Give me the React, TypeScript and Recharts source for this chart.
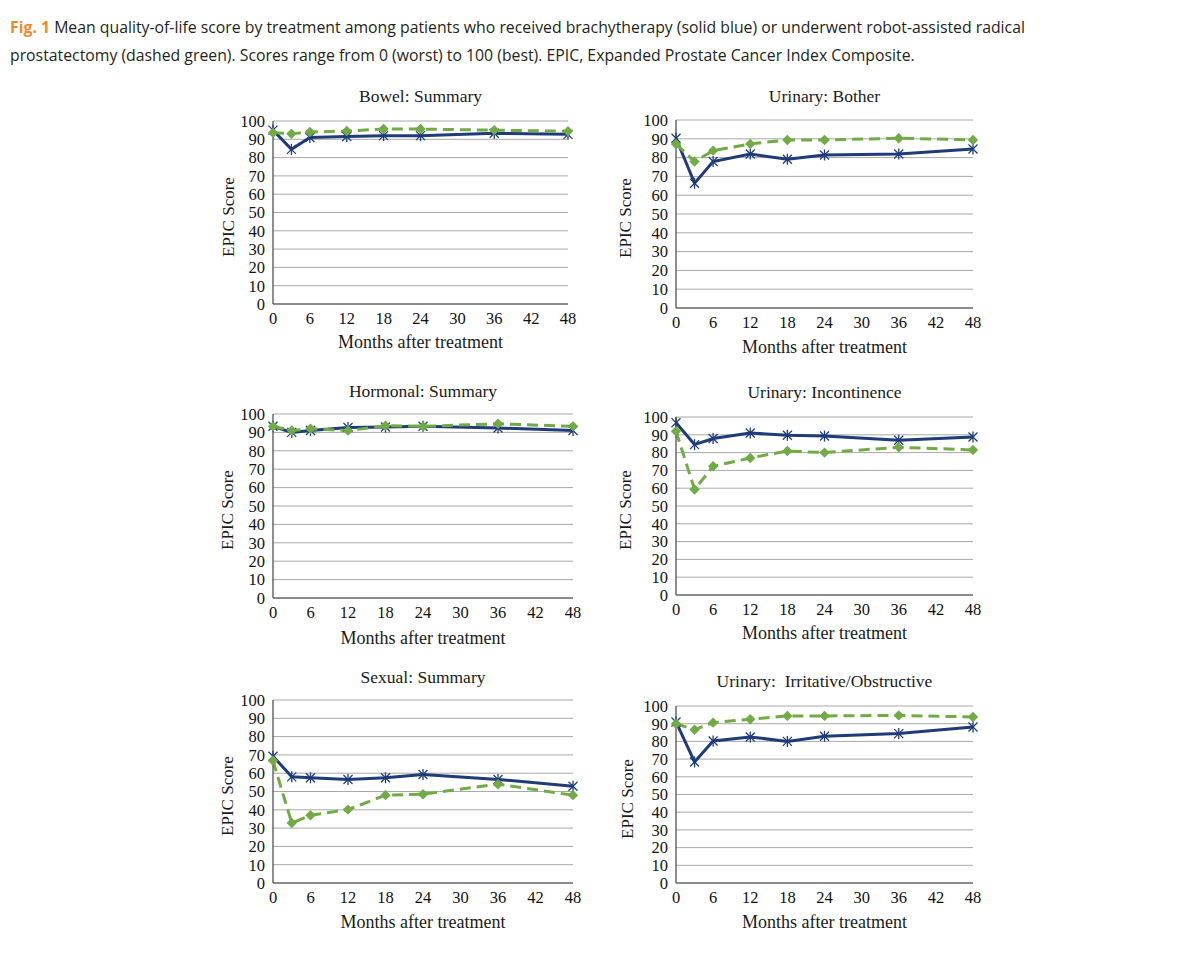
import React from 'react';
import { LineChart, Line, XAxis, YAxis, CartesianGrid } from 'recharts';

// ---------- data ----------
const months = [0, 3, 6, 12, 18, 24, 36, 48];
const xTicks = [0, 6, 12, 18, 24, 30, 36, 42, 48];
const yTicks = [0, 10, 20, 30, 40, 50, 60, 70, 80, 90, 100];

const bowelBrachy = [95, 84.5, 91, 91.5, 92, 92, 93.3, 92.7];
const bowelRarp = [93.6, 93, 94, 94.5, 95.6, 95.6, 95, 94.4];

const botherBrachy = [90.3, 66.4, 77.9, 81.9, 79.1, 81.4, 81.9, 84.6];
const botherRarp = [87.3, 77.9, 83.7, 87.3, 89.4, 89.4, 90.3, 89.4];

const hormonalBrachy = [93.3, 90, 91, 92.7, 92.9, 93.3, 92.4, 91];
const hormonalRarp = [93.3, 91, 92, 91, 93.6, 93.3, 94.7, 93.3];

const incontBrachy = [96.8, 84.5, 87.9, 91, 89.7, 89.3, 86.9, 88.8];
const incontRarp = [92, 59.3, 72.3, 77, 80.9, 80, 83, 81.5];

const sexualBrachy = [69.3, 58, 57.5, 56.6, 57.5, 59.3, 56.6, 52.9];
const sexualRarp = [66.8, 32.8, 37, 40.1, 48, 48.5, 54, 48];

const irritBrachy = [91, 68.4, 80.2, 82.5, 80, 82.9, 84.4, 88.1];
const irritRarp = [90, 86.6, 90.6, 92.5, 94.4, 94.4, 94.7, 93.8];

const titles = [
  'Bowel: Summary',
  'Urinary: Bother',
  'Hormonal: Summary',
  'Urinary: Incontinence',
  'Sexual: Summary',
  'Urinary:  Irritative/Obstructive',
];

// ---------- styles ----------
const BLUE = '#1f3b78';
const GREEN = '#71ab45';
const SERIF = '"Liberation Serif", "DejaVu Serif", serif';

const StarDot = (props: any) => {
  const { cx, cy } = props;
  if (cx == null || cy == null) return null;
  const r = 4.5;
  return (
    <g stroke={BLUE} strokeWidth={1.3} fill="none">
      <line x1={cx - r} y1={cy - r} x2={cx + r} y2={cy + r} />
      <line x1={cx - r} y1={cy + r} x2={cx + r} y2={cy - r} />
      <line x1={cx} y1={cy - r - 1} x2={cx} y2={cy + r + 1} />
    </g>
  );
};

const DiamondDot = (props: any) => {
  const { cx, cy } = props;
  if (cx == null || cy == null) return null;
  const r = 5.2;
  return (
    <path
      d={`M${cx},${cy - r} L${cx + r},${cy} L${cx},${cy + r} L${cx - r},${cy} Z`}
      fill={GREEN}
      stroke="none"
    />
  );
};

type Box = { left: number; top: number; right: number; bottom: number; titleY: number; xLabelY: number; yLabelX: number };

const layouts: Box[] = [
  { left: 273, top: 121, right: 568, bottom: 304, titleY: 97, xLabelY: 342, yLabelX: 228 },
  { left: 676, top: 120, right: 973, bottom: 308, titleY: 97, xLabelY: 347, yLabelX: 625 },
  { left: 273, top: 414, right: 573, bottom: 598, titleY: 392, xLabelY: 638, yLabelX: 227 },
  { left: 676, top: 417, right: 973, bottom: 595, titleY: 393, xLabelY: 633, yLabelX: 625 },
  { left: 273, top: 700, right: 573, bottom: 883, titleY: 678, xLabelY: 922, yLabelX: 227 },
  { left: 676, top: 706, right: 973, bottom: 883, titleY: 682, xLabelY: 922, yLabelX: 627 },
];

const seriesPairs: [number[], number[]][] = [
  [bowelBrachy, bowelRarp],
  [botherBrachy, botherRarp],
  [hormonalBrachy, hormonalRarp],
  [incontBrachy, incontRarp],
  [sexualBrachy, sexualRarp],
  [irritBrachy, irritRarp],
];

const centered = (x: number, y: number, extra: React.CSSProperties = {}): React.CSSProperties => ({
  position: 'absolute',
  left: x,
  top: y,
  transform: 'translate(-50%, -50%)',
  whiteSpace: 'pre',
  lineHeight: 1,
  fontFamily: SERIF,
  color: '#1a1a1a',
  ...extra,
});

const Panel = ({ title, brachy, rarp, box }: { title: string; brachy: number[]; rarp: number[]; box: Box }) => {
  const data = months.map((m, i) => ({ month: m, brachy: brachy[i], rarp: rarp[i] }));
  const yAxisW = 50;
  const xAxisH = 30;
  const padL = 60;
  const padT = 10;
  const padR = 12;
  const padB = 40;
  const plotW = box.right - box.left;
  const plotH = box.bottom - box.top;
  const cx = (box.left + box.right) / 2;
  const cy = (box.top + box.bottom) / 2;
  const tickStyle = { fontFamily: SERIF, fontSize: 16.5, fill: '#111' };
  return (
    <>
      <div style={centered(cx, box.titleY, { fontSize: 17.5 })}>{title}</div>
      <div style={centered(cx, box.xLabelY, { fontSize: 18 })}>Months after treatment</div>
      <div style={centered(box.yLabelX, cy + 4, { fontSize: 17, transform: 'translate(-50%, -50%) rotate(-90deg)' })}>
        EPIC Score
      </div>
      <div style={{ position: 'absolute', left: box.left - padL, top: box.top - padT }}>
        <LineChart
          width={plotW + padL + padR}
          height={plotH + padT + padB}
          data={data}
          margin={{ top: padT, right: padR, left: padL - yAxisW, bottom: padB - xAxisH }}
        >
          <CartesianGrid vertical={false} stroke="#a8a8a8" strokeWidth={1} />
          <XAxis
            dataKey="month"
            type="number"
            domain={[0, 48]}
            ticks={xTicks}
            interval={0}
            height={xAxisH}
            tickLine={false}
            axisLine={{ stroke: '#444', strokeWidth: 1.2 }}
            tick={tickStyle}
          />
          <YAxis
            type="number"
            domain={[0, 100]}
            ticks={yTicks}
            interval={0}
            width={yAxisW}
            tickLine={false}
            axisLine={{ stroke: '#444', strokeWidth: 1.2 }}
            tick={tickStyle}
          />
          <Line
            dataKey="brachy"
            type="linear"
            stroke={BLUE}
            strokeWidth={3}
            dot={<StarDot />}
            activeDot={false}
            isAnimationActive={false}
          />
          <Line
            dataKey="rarp"
            type="linear"
            stroke={GREEN}
            strokeWidth={3}
            strokeDasharray="11 6"
            dot={<DiamondDot />}
            activeDot={false}
            isAnimationActive={false}
          />
        </LineChart>
      </div>
    </>
  );
};

const captionFont = '"Open Sans", "Noto Sans", sans-serif';

export default function App() {
  return (
    <div style={{ position: 'absolute', left: 0, top: 0, width: 1200, height: 971, background: '#fff', overflow: 'hidden' }}>
      <div
        style={{
          position: 'absolute',
          left: 10,
          top: 13,
          fontFamily: captionFont,
          fontSize: 15.8,
          lineHeight: '28px',
          color: '#231f20',
          whiteSpace: 'nowrap',
        }}
      >
        <div>
          <span style={{ color: '#ef8a2a', fontWeight: 700 }}>Fig. 1</span> Mean quality-of-life score by treatment among
          patients who received brachytherapy (solid blue) or underwent robot-assisted radical
        </div>
        <div>
          prostatectomy (dashed green). Scores range from 0 (worst) to 100 (best). EPIC, Expanded Prostate Cancer Index
          Composite.
        </div>
      </div>
      {layouts.map((box, i) => (
        <Panel key={i} title={titles[i]} brachy={seriesPairs[i][0]} rarp={seriesPairs[i][1]} box={box} />
      ))}
    </div>
  );
}
